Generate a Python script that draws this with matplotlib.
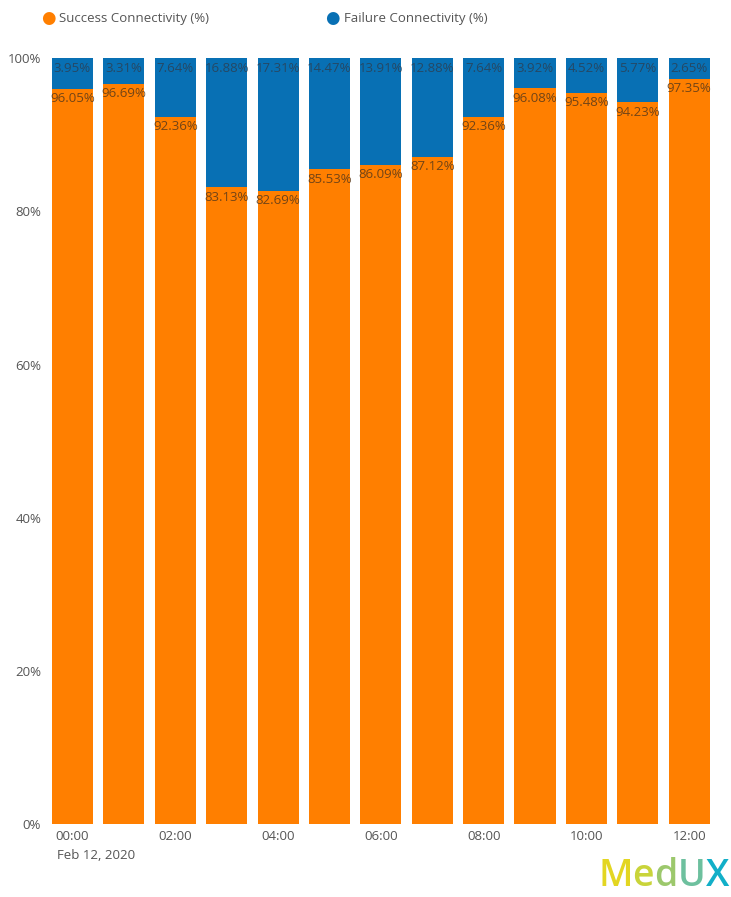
import matplotlib
matplotlib.use("Agg")
import matplotlib.pyplot as plt
from matplotlib.offsetbox import TextArea, HPacker, AnchoredOffsetbox

hours = ["00:00", "01:00", "02:00", "03:00", "04:00", "05:00", "06:00",
         "07:00", "08:00", "09:00", "10:00", "11:00", "12:00"]
success = [96.05, 96.69, 92.36, 83.13, 82.69, 85.53, 86.09, 87.12, 92.36, 96.08, 95.48, 94.23, 97.35]
failure = [3.95, 3.31, 7.64, 16.88, 17.31, 14.47, 13.91, 12.88, 7.64, 3.92, 4.52, 5.77, 2.65]
yticks = [0, 20, 40, 60, 80, 100]

ORANGE = "#FF7F00"
BLUE = "#0870B4"
plt.rcParams['font.family'] = ['Open Sans', 'DejaVu Sans']

fig = plt.figure(figsize=(7.31, 8.97), dpi=100)
ax = fig.add_axes([0.064, 0.0814, 0.914, 0.8536])
x = list(range(len(hours)))
ax.bar(x, success, width=0.8, color=ORANGE)
ax.bar(x, failure, width=0.8, bottom=success, color=BLUE)

for i in x:
    ax.annotate(f"{failure[i]:.2f}%", (i, 100), xytext=(0, -2.5), textcoords="offset points",
                ha="center", va="top", fontsize=9.5, color="#2d3e50", alpha=0.8)
    ax.annotate(f"{success[i]:.2f}%", (i, success[i]), xytext=(0, -2.5), textcoords="offset points",
                ha="center", va="top", fontsize=9.5, color="#5a3a1a", alpha=0.85)

ax.set_xlim(-0.5, len(hours) - 0.5)
ax.set_ylim(0, 100)
ax.set_yticks(yticks)
ax.set_yticklabels([f"{v}%" for v in yticks], fontsize=9.5, color="#555555")
xt = x[::2]
ax.set_xticks(xt)
ax.set_xticklabels([hours[i] for i in xt], fontsize=9.5, color="#555555")
ax.tick_params(length=0, pad=4)
for s in ax.spines.values():
    s.set_visible(False)

fig.text(0.078, 0.046, "Feb 12, 2020", fontsize=9.5, color="#555555", ha="left", va="center")

fig.text(0.066, 0.979, "\u25CF", color=ORANGE, fontsize=12, va="center", ha="center")
fig.text(0.081, 0.979, "Success Connectivity (%)", color="#555555", fontsize=9.5, va="center")
fig.text(0.455, 0.979, "\u25CF", color=BLUE, fontsize=12, va="center", ha="center")
fig.text(0.471, 0.979, "Failure Connectivity (%)", color="#555555", fontsize=9.5, va="center")

logo_letters = ["M", "e", "d", "U", "X"]
logo_colors = ["#E3D622", "#C9D43A", "#9CC86C", "#6DC09E", "#12AFC8"]
boxes = [TextArea(ch, textprops=dict(color=c, fontsize=27, fontweight="semibold"))
         for ch, c in zip(logo_letters, logo_colors)]
pack = HPacker(children=boxes, align="baseline", pad=0, sep=0)
anch = AnchoredOffsetbox(loc="lower right", child=pack, frameon=False,
                         bbox_to_anchor=(0.997, 0.002), bbox_transform=fig.transFigure,
                         borderpad=0, pad=0)
fig.add_artist(anch)

fig.savefig("out.png", dpi=100)
